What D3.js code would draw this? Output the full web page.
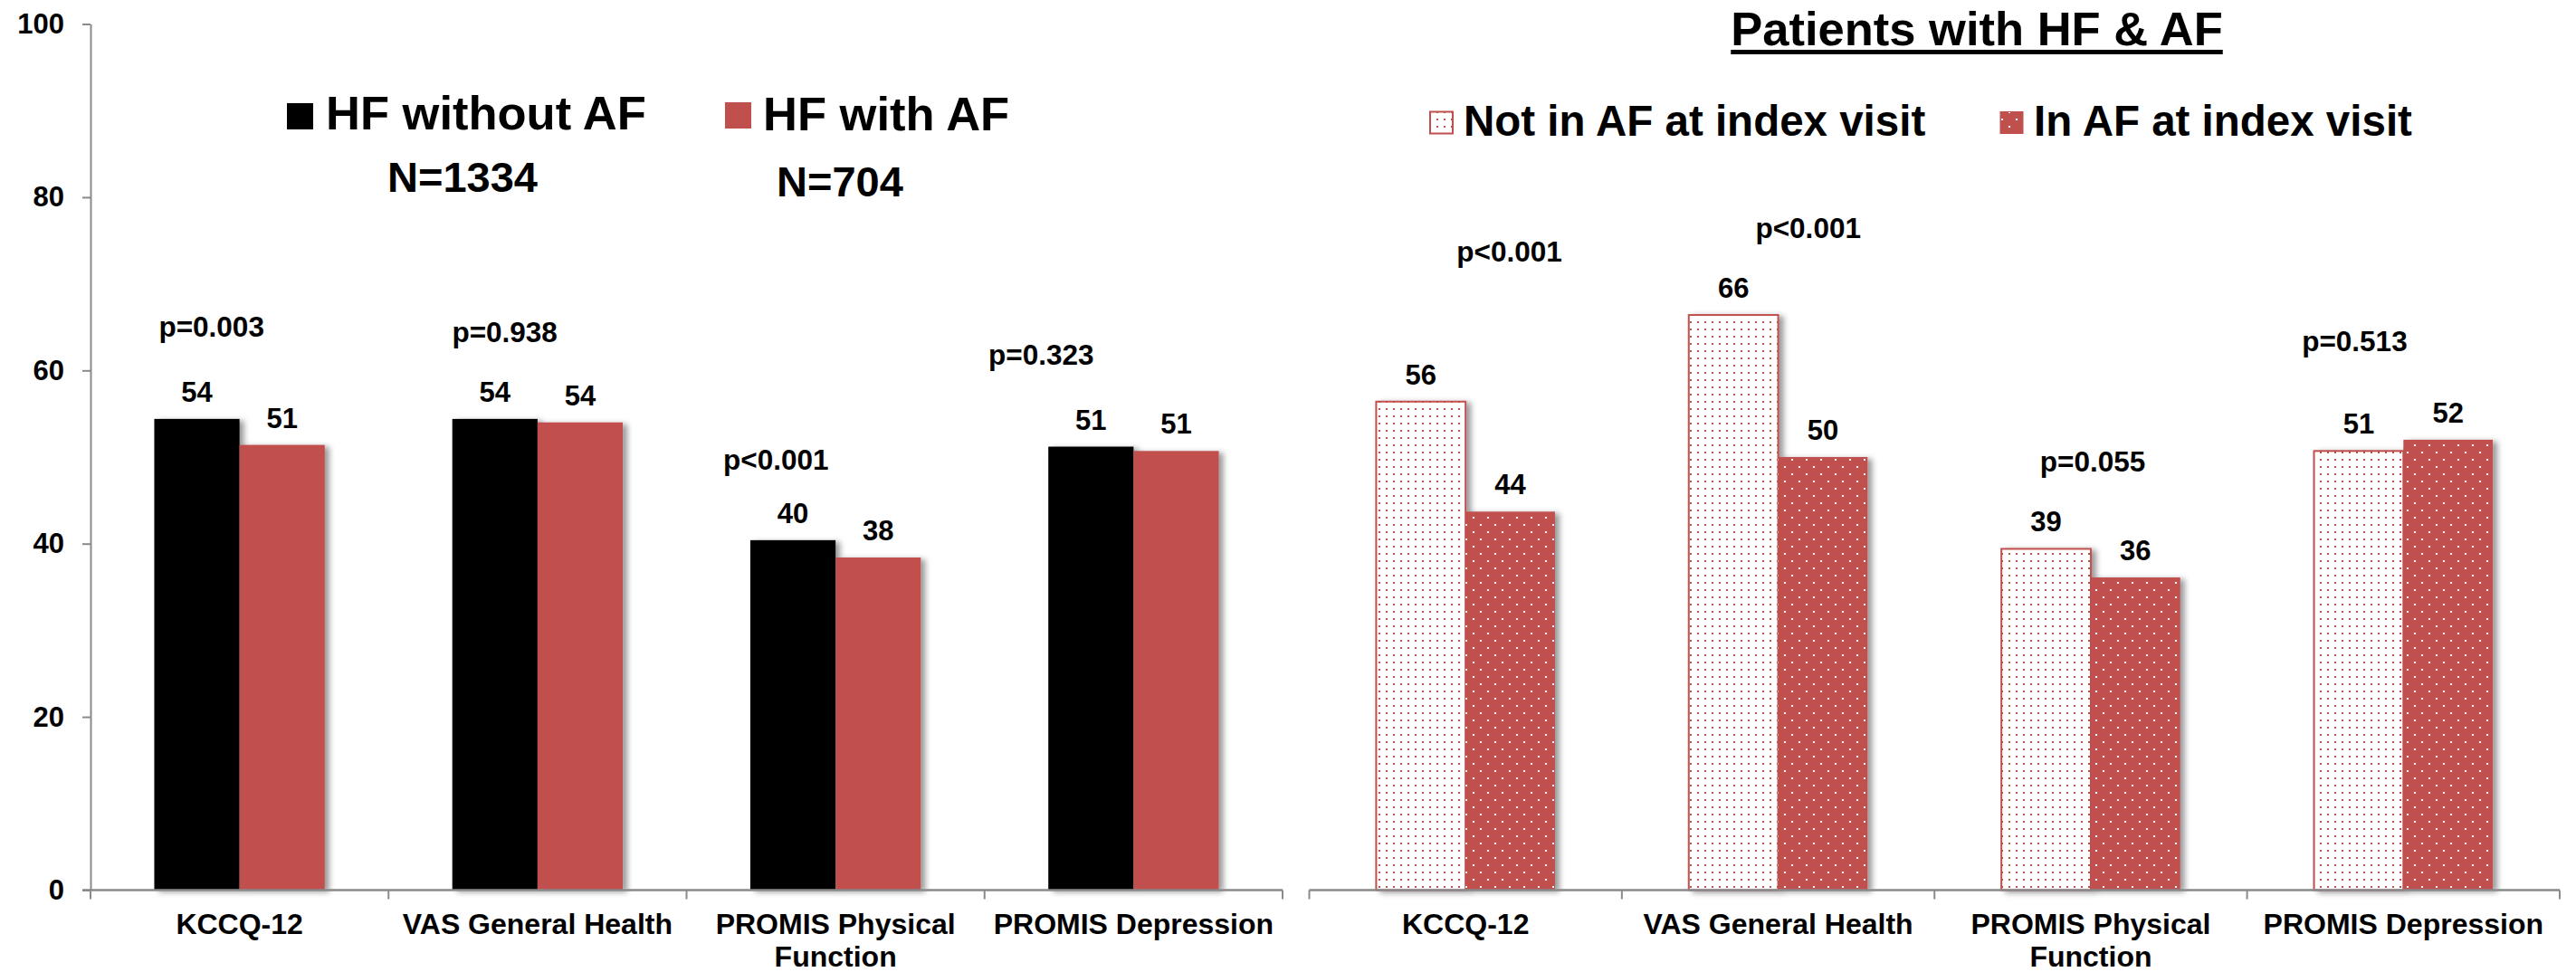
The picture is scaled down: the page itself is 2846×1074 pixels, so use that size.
<!DOCTYPE html>
<html><head><meta charset="utf-8">
<script src="https://cdn.jsdelivr.net/npm/d3@7"></script>
<style>
html,body{margin:0;padding:0;background:#fff}
svg{display:block}
text{font-family:"Liberation Sans",Arial,Helvetica,sans-serif;font-weight:bold;fill:#000}
</style>
</head><body>
<svg id="chart" width="2846" height="1074"></svg>
<script>
// ---------------- data ----------------
const categories = ["KCCQ-12", "VAS General Health", "PROMIS Physical Function", "PROMIS Depression"];
const leftSeries = ["HF without AF", "HF with AF"];
const leftN = ["N=1334", "N=704"];
const hfWithoutAF = [54.4, 54.4, 40.4, 51.2];
const hfWithAF = [51.4, 54.0, 38.4, 50.7];
const leftPValues = ["p=0.003", "p=0.938", "p<0.001", "p=0.323"];

const rightTitle = "Patients with HF & AF";
const rightSeries = ["Not in AF at index visit", "In AF at index visit"];
const notInAF = [56.4, 66.4, 39.4, 50.7];
const inAF = [43.7, 50.0, 36.1, 52.0];
const rightPValues = ["p<0.001", "p<0.001", "p=0.055", "p=0.513"];

const yTicks = [0, 20, 40, 60, 80, 100];

// p-value label anchors (offset in category steps, height in data units)
const leftPAnchor = [[-0.094, 63.9], [-0.11, 63.3], [-0.2, 48.5], [-0.31, 60.7]];
const rightPAnchor = [[0.14, 72.6], [0.096, 75.3], [0.006, 48.3], [-0.156, 62.2]];

// ---------------- drawing ----------------
const RED = "#C0504D";
const AXIS = "#8a8a8a";
const svg = d3.select("#chart");
const defs = svg.append("defs");

const flt = defs.append("filter").attr("id", "shadow")
  .attr("x", "-30%").attr("y", "-10%").attr("width", "160%").attr("height", "130%");
flt.append("feDropShadow").attr("dx", 5).attr("dy", 2).attr("stdDeviation", 3)
  .attr("flood-color", "#000").attr("flood-opacity", 0.4);

const pNot = defs.append("pattern").attr("id", "patNot").attr("patternUnits", "userSpaceOnUse")
  .attr("width", 8).attr("height", 8);
pNot.append("rect").attr("width", 8).attr("height", 8).attr("fill", "#fff");
pNot.append("rect").attr("x", 3).attr("y", 3).attr("width", 2).attr("height", 2).attr("fill", RED);

const pIn = defs.append("pattern").attr("id", "patIn").attr("patternUnits", "userSpaceOnUse")
  .attr("width", 16).attr("height", 16);
pIn.append("rect").attr("width", 16).attr("height", 16).attr("fill", RED);
pIn.append("rect").attr("x", 3).attr("y", 3).attr("width", 2).attr("height", 2).attr("fill", "#fff");
pIn.append("rect").attr("x", 11).attr("y", 11).attr("width", 2).attr("height", 2).attr("fill", "#fff");

const y = d3.scaleLinear().domain([0, 100]).range([983.5, 26.5]);

function wrap(texts, width) {
  texts.each(function () {
    const t = d3.select(this);
    const words = t.text().split(/\s+/);
    const yAttr = t.attr("y"), dy = t.attr("dy");
    t.text(null);
    let line = [];
    let tspan = t.append("tspan").attr("x", 0).attr("y", yAttr).attr("dy", dy);
    let lineNo = 0;
    words.forEach(w => {
      line.push(w);
      tspan.text(line.join(" "));
      if (tspan.node().getComputedTextLength() > width && line.length > 1) {
        line.pop();
        tspan.text(line.join(" "));
        line = [w];
        lineNo++;
        tspan = t.append("tspan").attr("x", 0).attr("y", yAttr)
          .attr("dy", (lineNo * 36) + 22.7 + "px").text(w);
      }
    });
  });
}

function panel(range, series, valuesArr, fills, strokes, pvals, pAnchor, withYAxis) {
  const x = d3.scaleBand().domain(categories).range(range)
    .paddingInner(0.428).paddingOuter(0.214);
  const xs = d3.scaleBand().domain(series).range([0, x.bandwidth()]);
  const g = svg.append("g");
  const step = x.step();
  const boundaries = categories.map(c => x(c) - step * x.paddingInner() / 2);
  boundaries.push(range[1]);

  if (withYAxis) {
    const ya = g.append("g").attr("transform", `translate(${range[0]},0)`)
      .call(d3.axisLeft(y).tickValues(yTicks).tickSize(9).tickSizeOuter(0).tickPadding(20)
        .tickFormat(d3.format("d")));
    ya.select(".domain").attr("stroke", AXIS).attr("stroke-width", 2);
    ya.selectAll(".tick line").attr("stroke", AXIS).attr("stroke-width", 2);
    ya.selectAll(".tick text").attr("font-size", 31).attr("fill", "#000")
      .style("font-family", '"Liberation Sans",Arial,sans-serif').style("font-weight", "bold");
  }

  // x-axis labels
  const xa = g.append("g").attr("transform", `translate(0,${y(0)})`)
    .call(d3.axisBottom(x).tickSize(0).tickPadding(0));
  xa.select(".domain").remove();
  xa.selectAll(".tick text").attr("font-size", 32).attr("fill", "#000")
    .attr("y", 26).attr("dy", "22.7px")
    .style("font-family", '"Liberation Sans",Arial,sans-serif').style("font-weight", "bold")
    .call(wrap, step * 0.97);

  // bars
  series.forEach((s, si) => {
    const vals = valuesArr[si];
    g.append("g").selectAll("rect").data(categories).join("rect")
      .attr("x", c => x(c) + xs(s))
      .attr("y", (c, i) => y(vals[i]))
      .attr("width", xs.bandwidth())
      .attr("height", (c, i) => y(0) - y(vals[i]))
      .attr("fill", fills[si])
      .attr("stroke", strokes[si] || "none")
      .attr("stroke-width", strokes[si] ? 2 : 0)
      .attr("filter", "url(#shadow)");
    g.append("g").selectAll("text").data(categories).join("text")
      .attr("x", c => x(c) + xs(s) + xs.bandwidth() / 2)
      .attr("y", (c, i) => y(vals[i]) - 19)
      .attr("text-anchor", "middle").attr("font-size", 31)
      .text((c, i) => Math.round(vals[i]));
  });

  // axis line + boundary ticks
  g.append("line").attr("x1", withYAxis ? range[0] - 9 : range[0]).attr("x2", range[1])
    .attr("y1", y(0)).attr("y2", y(0)).attr("stroke", AXIS).attr("stroke-width", 2.5);
  g.append("g").selectAll("line").data(boundaries).join("line")
    .attr("x1", d => d).attr("x2", d => d).attr("y1", y(0)).attr("y2", y(0) + 10)
    .attr("stroke", AXIS).attr("stroke-width", 2);

  // p-values
  g.append("g").selectAll("text").data(categories).join("text")
    .attr("x", (c, i) => x(c) + x.bandwidth() / 2 + pAnchor[i][0] * step)
    .attr("y", (c, i) => y(pAnchor[i][1]))
    .attr("text-anchor", "middle").attr("font-size", 31.5)
    .text((c, i) => pvals[i]);
  return x;
}

panel([100, 1417], leftSeries, [hfWithoutAF, hfWithAF], ["#000", RED], [null, null],
  leftPValues, leftPAnchor, true);
panel([1446.5, 2828], rightSeries, [notInAF, inAF], ["url(#patNot)", "url(#patIn)"], [RED, null],
  rightPValues, rightPAnchor, false);

// left legend
const lg = svg.append("g");
lg.append("rect").attr("x", 317).attr("y", 114).attr("width", 29).attr("height", 29).attr("fill", "#000");
lg.append("text").attr("x", 360).attr("y", 143.3).attr("font-size", 52.5).text(leftSeries[0]);
lg.append("rect").attr("x", 801).attr("y", 113).attr("width", 29).attr("height", 29).attr("fill", RED);
lg.append("text").attr("x", 843).attr("y", 144).attr("font-size", 52.5).text(leftSeries[1]);
lg.append("text").attr("x", 511).attr("y", 211.7).attr("text-anchor", "middle").attr("font-size", 47).text(leftN[0]);
lg.append("text").attr("x", 928).attr("y", 216.7).attr("text-anchor", "middle").attr("font-size", 47).text(leftN[1]);

// right title + legend
const rg = svg.append("g");
const tt = rg.append("text").attr("x", 2184).attr("y", 50).attr("text-anchor", "middle")
  .attr("font-size", 52.5).text(rightTitle);
const bb = tt.node().getBBox();
rg.append("rect").attr("x", bb.x).attr("y", 55).attr("width", bb.width).attr("height", 5).attr("fill", "#000");

rg.append("rect").attr("x", 1580).attr("y", 123.5).attr("width", 25).attr("height", 24)
  .attr("fill", "url(#patNot)").attr("stroke", RED).attr("stroke-width", 2);
rg.append("text").attr("x", 1617).attr("y", 150).attr("font-size", 47.5).text(rightSeries[0]);
rg.append("rect").attr("x", 2210).attr("y", 123.5).attr("width", 25).attr("height", 24)
  .attr("fill", "url(#patIn)").attr("stroke", RED).attr("stroke-width", 1);
rg.append("text").attr("x", 2247).attr("y", 150).attr("font-size", 47.5).text(rightSeries[1]);
</script>
</body></html>
